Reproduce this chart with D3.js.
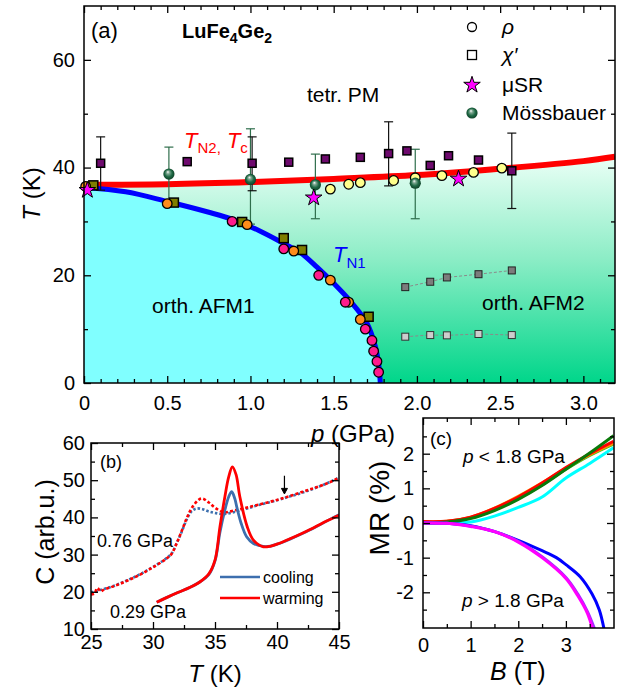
<!DOCTYPE html>
<html><head><meta charset="utf-8">
<script src="https://cdn.jsdelivr.net/npm/d3@7"></script>
<style>body{margin:0;background:#fff} svg{display:block} text{font-family:"Liberation Sans",Arial,sans-serif}</style>
</head><body><svg id="c" width="639" height="688"></svg>
<script>
// ---------- Panel (a) data ----------
const redLine = [[0,36.8],[0.5,36.9],[1.0,37.3],[1.5,37.9],[2.0,38.6],[2.5,39.8],[3.0,41.2],[3.19,42.0]];
const blueLine = [[0,36.3],[0.25,35.5],[0.5,33.7],[0.75,31.7],[0.9,30.3],[1.05,28.3],[1.2,25.9],[1.3,24.2],[1.4,21.5],[1.5,18.5],[1.6,15.2],[1.7,11.1],[1.75,6.8],[1.77,3.5],[1.78,0]];
const chiHigh = [[0.10,40.8],[0.62,41.1],[1.01,40.8],[1.23,41.0],[1.45,41.6],[1.66,41.9],[1.83,42.6],[1.94,43.1],[2.08,40.4],[2.19,42.2],[2.37,41.4],[2.57,39.4]];
const chiHighErr = [[0.10,35.8,45.7],[1.01,35.7,45.7],[1.83,36.6,48.5],[2.57,32.4,46.4]];
const rhoHigh = [[1.48,36.0],[1.59,36.9],[1.66,37.2],[1.86,37.6],[1.99,38.1],[2.15,38.5],[2.34,39.1],[2.51,39.9]];
const moss = [[0.51,38.8],[1.00,37.8],[1.39,36.8],[1.99,37.1]];
const mossErr = [[0.51,33.8,43.8],[1.00,29.5,47.2],[1.39,30.5,42.5],[1.99,30.5,43.4]];
const musr = [[0.02,35.8],[1.38,34.4],[2.25,37.9]];
const chiLow = [[0.056,36.7],[0.54,33.5],[0.95,29.9],[1.20,26.9],[1.31,24.7],[1.71,12.3]];
const rhoOrange = [[0.01,36.5],[0.50,33.3],[0.98,29.4],[1.26,24.5],[1.48,19.1],[1.59,15.0],[1.66,11.8]];
const rhoPink = [[0.89,30.0],[1.20,24.9],[1.41,20.0],[1.57,15.0],[1.69,10.0],[1.73,7.9],[1.74,5.9],[1.76,4.0],[1.77,2.0]];
const grayHigh = [[1.93,17.8],[2.08,18.8],[2.18,19.6],[2.37,20.2],[2.57,20.9]];
const grayLow = [[1.93,8.6],[2.08,8.9],[2.18,8.85],[2.37,9.1],[2.57,8.9]];
const aXTicks = [0,0.5,1.0,1.5,2.0,2.5,3.0];
const aXLabels = ["0","0.5","1.0","1.5","2.0","2.5","3.0"];
const aYTicks = [0,20,40,60];

// ---------- Panel (b) data ----------
const b076cool = [[25,19.8],[25.5,20.3],[26,20.7],[27,21.8],[28,23.2],[29,24.8],[30,26.7],[31,28.8],[31.5,30.3],[31.9,33.0],[32.3,36.0],[32.7,39.3],[33.1,41.6],[33.5,42.4],[34,42.2],[34.5,41.6],[35,41.2],[35.7,40.9],[36.5,41.4],[37.5,42.3],[38.5,43.3],[40,44.6],[41,45.6],[42,46.6],[43,47.8],[44,49.1],[45,50.7]];
const b076warm = [[25,19.3],[25.3,19.6],[25.5,21.0],[25.8,20.1],[26,20.5],[27,21.7],[28,23.1],[29,24.7],[30,26.6],[31,28.7],[31.5,30.2],[31.9,33.0],[32.3,36.2],[32.7,39.6],[33.2,42.9],[33.9,45.1],[34.5,44.0],[35,42.6],[35.7,41.4],[36.5,41.8],[37.5,42.6],[38.5,43.4],[40,44.7],[41,45.7],[42,46.8],[43,47.9],[44,49.1],[45,50.6]];
const b029cool = [[30.3,17.2],[31,18.3],[32,19.8],[33,21.2],[33.8,22.7],[34.5,24.6],[35.0,28.3],[35.4,36.0],[35.8,42.0],[36.1,45.5],[36.35,46.9],[36.6,45.0],[36.75,42.9],[37.1,38.5],[37.55,34.8],[38.1,33.0],[38.9,32.2],[39.5,32.3],[40,32.8],[40.5,33.4],[41,34.1],[42,35.6],[43,37.2],[44,39.0],[45,40.7]];
const b029warm = [[30.3,17.2],[31,18.3],[32,19.8],[33,21.2],[33.8,22.7],[34.5,24.8],[35.0,28.5],[35.4,37.5],[35.8,45.6],[36.1,50.8],[36.4,53.6],[36.7,51.5],[37.0,45.6],[37.6,37.5],[38.1,33.9],[38.9,32.1],[39.5,32.3],[40,32.8],[41,34.2],[42,35.7],[43,37.3],[44,39.0],[45,40.6]];
const bXTicks = [25,30,35,40,45];
const bYTicks = [10,20,30,40,50,60];

// ---------- Panel (c) data ----------
const cB = [0,0.5,1,1.5,2,2.5,3,3.5,4];
const cRed    = [0.04,0.05,0.17,0.42,0.75,1.15,1.60,2.00,2.36];
const cOrange = [0.03,0.05,0.17,0.43,0.77,1.16,1.58,1.97,2.30];
const cLime   = [0.01,0.04,0.15,0.38,0.71,1.10,1.55,1.95,2.28];
const cDkGreen= [0.00,0.03,0.13,0.36,0.68,1.08,1.55,2.02,2.52];
const cCyan   = [0.00,0.01,0.03,0.20,0.45,0.75,1.30,1.72,2.17];
const cBlowM  = [0,0.5,1,1.5,2,2.5,3,3.25,3.45,3.56];
const cMagenta= [0,-0.01,-0.10,-0.25,-0.55,-1.00,-1.60,-2.10,-2.60,-3.05];
const cBlowV  = [0,0.5,1,1.5,2,2.5,3,3.25,3.45,3.60];
const cViolet = [0,-0.01,-0.09,-0.24,-0.53,-0.97,-1.57,-2.05,-2.55,-3.05];
const cBlowB  = [0,0.5,1,1.5,2,2.5,2.8,3.0,3.3,3.55,3.7,3.8];
const cBlue   = [0,-0.01,-0.08,-0.25,-0.50,-0.80,-1.00,-1.20,-1.55,-2.05,-2.50,-3.05];
const cXTicks = [0,1,2,3];
const cYTicks = [-2,-1,0,1,2];

const svg = d3.select("#c");
const FF = '"Liberation Sans",Arial,sans-serif';

function frame(g, x, y, o) {
  const [x0,x1] = x.range(), [y0,y1] = [y.range()[0], y.range()[1]];
  const mk = (axis, tr, vals, size, fmt, pad) => {
    const a = g.append("g").attr("transform", tr)
      .call(axis.tickValues(vals).tickSizeInner(size).tickSizeOuter(0).tickPadding(pad||3).tickFormat(fmt));
    a.select(".domain").remove();
    a.selectAll("line").attr("stroke","#000").attr("stroke-width",1.3);
    a.attr("font-size", o.fs).attr("font-family", FF);
    a.selectAll("text").attr("fill","#000");
    return a;
  };
  mk(d3.axisBottom(x), `translate(0,${y0})`, o.xMaj, -7, (d,i)=>o.xLab[i], o.xPad);
  mk(d3.axisBottom(x), `translate(0,${y0})`, o.xMin, -4, ()=>"");
  mk(d3.axisTop(x), `translate(0,${y1})`, o.xMaj, -7, ()=>"");
  mk(d3.axisTop(x), `translate(0,${y1})`, o.xMin, -4, ()=>"");
  mk(d3.axisLeft(y), `translate(${x0},0)`, o.yMaj, -7, (d,i)=>o.yLab[i], o.yPad);
  mk(d3.axisLeft(y), `translate(${x0},0)`, o.yMin, -4, ()=>"");
  mk(d3.axisRight(y), `translate(${x1},0)`, o.yMaj, -7, ()=>"");
  mk(d3.axisRight(y), `translate(${x1},0)`, o.yMin, -4, ()=>"");
  g.append("rect").attr("x",x0).attr("y",y1).attr("width",x1-x0).attr("height",y0-y1)
    .attr("fill","none").attr("stroke","#000").attr("stroke-width",1.5);
}

// ================= Panel (a) =================
const ax = d3.scaleLinear().domain([0,3.19]).range([84,615]);
const ay = d3.scaleLinear().domain([0,70]).range([383,6]);
const ga = svg.append("g");
const defs = svg.append("defs");
const lg = defs.append("linearGradient").attr("id","grad").attr("gradientUnits","userSpaceOnUse")
  .attr("x1",0).attr("x2",0).attr("y1",ay(42)).attr("y2",ay(0));
lg.append("stop").attr("offset","0%").attr("stop-color","#eafff6");
lg.append("stop").attr("offset","45%").attr("stop-color","#8cedc6");
lg.append("stop").attr("offset","100%").attr("stop-color","#00d68a");
const rg = defs.append("radialGradient").attr("id","sph").attr("cx","50%").attr("cy","50%").attr("r","55%").attr("fx","40%").attr("fy","30%");
rg.append("stop").attr("offset","0%").attr("stop-color","#ffffff");
rg.append("stop").attr("offset","25%").attr("stop-color","#7fa892");
rg.append("stop").attr("offset","60%").attr("stop-color","#1f6a45");
rg.append("stop").attr("offset","100%").attr("stop-color","#0b3a22");
defs.append("clipPath").attr("id","clipa").append("rect").attr("x",84).attr("y",6).attr("width",531).attr("height",377);

const area = d3.area().x(d=>ax(d[0])).y0(ay(0)).y1(d=>ay(d[1])).curve(d3.curveCatmullRom);
const fills = ga.append("g").attr("clip-path","url(#clipa)");
fills.append("path").datum(redLine).attr("d",area).attr("fill","url(#grad)");
fills.append("path").datum(blueLine).attr("d",area).attr("fill","#80ffff");

const line = d3.line().x(d=>ax(d[0])).y(d=>ay(d[1]));
[grayHigh, grayLow].forEach(s=>{
  ga.append("path").datum(s).attr("d",line).attr("fill","none").attr("stroke","#8a8a8a").attr("stroke-width",1).attr("stroke-dasharray","3,2");
});
const lineC = d3.line().x(d=>ax(d[0])).y(d=>ay(d[1])).curve(d3.curveCatmullRom);
ga.append("path").datum(redLine).attr("d",lineC).attr("fill","none").attr("stroke","#ff0000").attr("stroke-width",6).attr("clip-path","url(#clipa)");
ga.append("path").datum(blueLine).attr("d",lineC).attr("fill","none").attr("stroke","#0000ff").attr("stroke-width",5).attr("clip-path","url(#clipa)");

function ebars(data, color) {
  data.forEach(d=>{
    const x = ax(d[0]);
    ga.append("line").attr("x1",x).attr("x2",x).attr("y1",ay(d[1])).attr("y2",ay(d[2])).attr("stroke",color).attr("stroke-width",1.2);
    [d[1],d[2]].forEach(v=>ga.append("line").attr("x1",x-4.5).attr("x2",x+4.5).attr("y1",ay(v)).attr("y2",ay(v)).attr("stroke",color).attr("stroke-width",1.2));
  });
}
ebars(mossErr, "#2f6e4c");
ebars(chiHighErr, "#111");

function squares(data, s, fill, stroke, sw) {
  ga.selectAll(null).data(data).enter().append("rect")
    .attr("x",d=>ax(d[0])-s/2).attr("y",d=>ay(d[1])-s/2).attr("width",s).attr("height",s)
    .attr("fill",fill).attr("stroke",stroke).attr("stroke-width",sw);
}
function circles(data, r, fill) {
  ga.selectAll(null).data(data).enter().append("circle")
    .attr("cx",d=>ax(d[0])).attr("cy",d=>ay(d[1])).attr("r",r)
    .attr("fill",fill).attr("stroke","#000").attr("stroke-width",1.3);
}
squares(grayHigh, 7, "#7c7c7c", "#222", 1);
squares(grayLow, 7, "#cdcdcd", "#333", 1);
squares(chiHigh, 8, "#6e0a6e", "#000", 1.5);
circles(rhoHigh, 4.8, "#ffff8c");
ga.selectAll(null).data(moss).enter().append("circle")
  .attr("cx",d=>ax(d[0])).attr("cy",d=>ay(d[1])).attr("r",5.6).attr("fill","url(#sph)");
squares(chiLow, 9, "#7f7f00", "#000", 1.5);
circles(rhoOrange, 4.8, "#ff8c1a");
circles(rhoPink, 4.8, "#ff1a8c");
const star = d3.symbol().type(d3.symbolStar).size(85);
ga.selectAll(null).data(musr).enter().append("path").attr("d",star)
  .attr("transform",d=>`translate(${ax(d[0])},${ay(d[1])})`)
  .attr("fill","#ff00ff").attr("stroke","#000").attr("stroke-width",1);

frame(ga, ax, ay, {xMaj:aXTicks, xLab:aXLabels, xMin:d3.range(1,32).map(i=>i/10).filter(v=>Math.abs(v*2-Math.round(v*2))>1e-6),
  yMaj:aYTicks, yLab:aYTicks.map(String), yMin:[10,30,50], fs:20, xPad:13, yPad:9});

// legend
const legY = [27,55,85,113], legX = 472;
ga.append("circle").attr("cx",legX).attr("cy",legY[0]).attr("r",4.5).attr("fill","#fff").attr("stroke","#000").attr("stroke-width",1.3);
ga.append("rect").attr("x",legX-4.5).attr("y",legY[1]-4.5).attr("width",9).attr("height",9).attr("fill","#fff").attr("stroke","#000").attr("stroke-width",1.3);
ga.append("path").attr("d",star).attr("transform",`translate(${legX},${legY[2]})`).attr("fill","#ff00ff").attr("stroke","#000").attr("stroke-width",1);
ga.append("circle").attr("cx",legX).attr("cy",legY[3]).attr("r",5.6).attr("fill","url(#sph)");
const lt = (y, txt, serif) => ga.append("text").attr("x",502).attr("y",y+7).attr("font-size",21)
  .attr("font-family", serif ? '"Liberation Serif",serif' : FF).attr("font-style", serif?"italic":"normal").text(txt);
lt(legY[0], "ρ", true); lt(legY[1], "χ′", true); lt(legY[2], "μSR", false); lt(legY[3], "Mössbauer", false);

// texts panel a
ga.append("text").attr("x",91).attr("y",38).attr("font-size",22).text("(a)");
const lu = ga.append("text").attr("x",182).attr("y",38).attr("font-size",20).attr("font-weight","bold");
lu.append("tspan").text("LuFe");
lu.append("tspan").attr("font-size",14).attr("dy",5).text("4");
lu.append("tspan").attr("dy",-5).text("Ge");
lu.append("tspan").attr("font-size",14).attr("dy",5).text("2");
ga.append("text").attr("x",307).attr("y",102).attr("font-size",21).text("tetr. PM");
ga.append("text").attr("x",152).attr("y",313).attr("font-size",21).text("orth. AFM1");
ga.append("text").attr("x",482).attr("y",310).attr("font-size",21).text("orth. AFM2");
const tn2 = ga.append("text").attr("x",184).attr("y",148).attr("font-size",22).attr("fill","#ff0000");
tn2.append("tspan").attr("font-style","italic").text("T");
tn2.append("tspan").attr("font-size",15).attr("dy",5).text("N2,");
tn2.append("tspan").attr("dy",-5).attr("font-style","italic").text(" T");
tn2.append("tspan").attr("font-size",15).attr("dy",5).text("c");
const tn1 = ga.append("text").attr("x",333).attr("y",262).attr("font-size",22).attr("fill","#0000ff");
tn1.append("tspan").attr("font-style","italic").text("T");
tn1.append("tspan").attr("font-size",15).attr("dy",6).text("N1");
const ylab = ga.append("text").attr("transform","translate(40,194) rotate(-90)").attr("text-anchor","middle").attr("font-size",24);
ylab.append("tspan").attr("font-style","italic").text("T");
ylab.append("tspan").text(" (K)");
const xlab = ga.append("text").attr("x",311).attr("y",442).attr("font-size",24);
xlab.append("tspan").attr("font-style","italic").text("p");
xlab.append("tspan").text(" (GPa)");

// ================= Panel (b) =================
const bx = d3.scaleLinear().domain([25,45]).range([91,339]);
const by = d3.scaleLinear().domain([10,60]).range([629,443]);
const gb = svg.append("g");
defs.append("clipPath").attr("id","clipb").append("rect").attr("x",91).attr("y",443).attr("width",248).attr("height",186);
const bl = d3.line().x(d=>bx(d[0])).y(d=>by(d[1])).curve(d3.curveCatmullRom);
const gbc = gb.append("g").attr("clip-path","url(#clipb)");
const BLUE = "#3d6fae", RED = "#ff0000";
gbc.append("path").datum(b076cool).attr("d",bl).attr("fill","none").attr("stroke",BLUE).attr("stroke-width",2.6).attr("stroke-dasharray","2.5,2");
gbc.append("path").datum(b076warm).attr("d",bl).attr("fill","none").attr("stroke",RED).attr("stroke-width",2.6).attr("stroke-dasharray","3,2.2");
gbc.append("path").datum(b029cool).attr("d",bl).attr("fill","none").attr("stroke",BLUE).attr("stroke-width",2.8);
gbc.append("path").datum(b029warm).attr("d",bl).attr("fill","none").attr("stroke",RED).attr("stroke-width",2.8);
frame(gb, bx, by, {xMaj:bXTicks, xLab:bXTicks.map(String), xMin:[27.5,32.5,37.5,42.5],
  yMaj:bYTicks, yLab:bYTicks.map(String), yMin:[15,25,35,45,55], fs:20, xPad:6, yPad:6});
gb.append("line").attr("x1",bx(40.6)).attr("x2",bx(40.6)).attr("y1",by(51.2)).attr("y2",by(46.8)).attr("stroke","#000").attr("stroke-width",1.2);
gb.append("path").attr("d",`M${bx(40.6)-3},${by(47.8)} L${bx(40.6)},${by(46.3)} L${bx(40.6)+3},${by(47.8)} Z`).attr("fill","#000").attr("stroke","#000");
gb.append("text").attr("x",100).attr("y",468).attr("font-size",18).text("(b)");
gb.append("text").attr("x",97).attr("y",547).attr("font-size",18).text("0.76 GPa");
gb.append("text").attr("x",110).attr("y",618).attr("font-size",18).text("0.29 GPa");
gb.append("line").attr("x1",220).attr("x2",260).attr("y1",577).attr("y2",577).attr("stroke",BLUE).attr("stroke-width",2.5);
gb.append("line").attr("x1",220).attr("x2",260).attr("y1",598).attr("y2",598).attr("stroke",RED).attr("stroke-width",2.5);
gb.append("text").attr("x",263).attr("y",583).attr("font-size",16).text("cooling");
gb.append("text").attr("x",263).attr("y",604).attr("font-size",16).text("warming");
gb.append("text").attr("transform","translate(54,532) rotate(-90)").attr("text-anchor","middle").attr("font-size",25).text("C (arb.u.)");
const bxlab = gb.append("text").attr("x",215).attr("y",682).attr("text-anchor","middle").attr("font-size",24);
bxlab.append("tspan").attr("font-style","italic").text("T");
bxlab.append("tspan").text(" (K)");

// ================= Panel (c) =================
const cx = d3.scaleLinear().domain([0,4.01]).range([423,614]);
const cy = d3.scaleLinear().domain([-3.03,3.03]).range([628,418]);
const gc = svg.append("g");
defs.append("clipPath").attr("id","clipc").append("rect").attr("x",423).attr("y",418).attr("width",191).attr("height",210);
const gcc = gc.append("g").attr("clip-path","url(#clipc)");
const cl = d3.line().x(d=>cx(d[0])).y(d=>cy(d[1])).curve(d3.curveCatmullRom);
const series = [
  [cB, cCyan, "#00ffff"], [cB, cLime, "#22cc22"], [cB, cOrange, "#ff8c00"], [cB, cRed, "#ff0000"], [cB, cDkGreen, "#0a7a0a"],
  [cBlowB, cBlue, "#0000ff"], [cBlowV, cViolet, "#9933ff"], [cBlowM, cMagenta, "#ff00ff"]
];
series.forEach(([xs, ys, col]) => {
  gcc.append("path").datum(xs.map((b,i)=>[b, ys[i]])).attr("d",cl).attr("fill","none").attr("stroke",col).attr("stroke-width",3);
});
frame(gc, cx, cy, {xMaj:cXTicks, xLab:cXTicks.map(String), xMin:[0.5,1.5,2.5,3.5],
  yMaj:cYTicks, yLab:cYTicks.map(String), yMin:[-2.5,-1.5,-0.5,0.5,1.5,2.5], fs:20, xPad:10, yPad:9});
gc.append("text").attr("x",430).attr("y",445).attr("font-size",19).text("(c)");
const pl = gc.append("text").attr("x",463).attr("y",463).attr("font-size",19);
pl.append("tspan").attr("font-style","italic").text("p");
pl.append("tspan").text(" < 1.8 GPa");
const pg = gc.append("text").attr("x",462).attr("y",607).attr("font-size",19);
pg.append("tspan").attr("font-style","italic").text("p");
pg.append("tspan").text(" > 1.8 GPa");
gc.append("text").attr("transform","translate(389,508) rotate(-90)").attr("text-anchor","middle").attr("font-size",28).text("MR (%)");
const cxlab = gc.append("text").attr("x",490).attr("y",680).attr("font-size",25);
cxlab.append("tspan").attr("font-style","italic").text("B");
cxlab.append("tspan").text(" (T)");
</script></body></html>
